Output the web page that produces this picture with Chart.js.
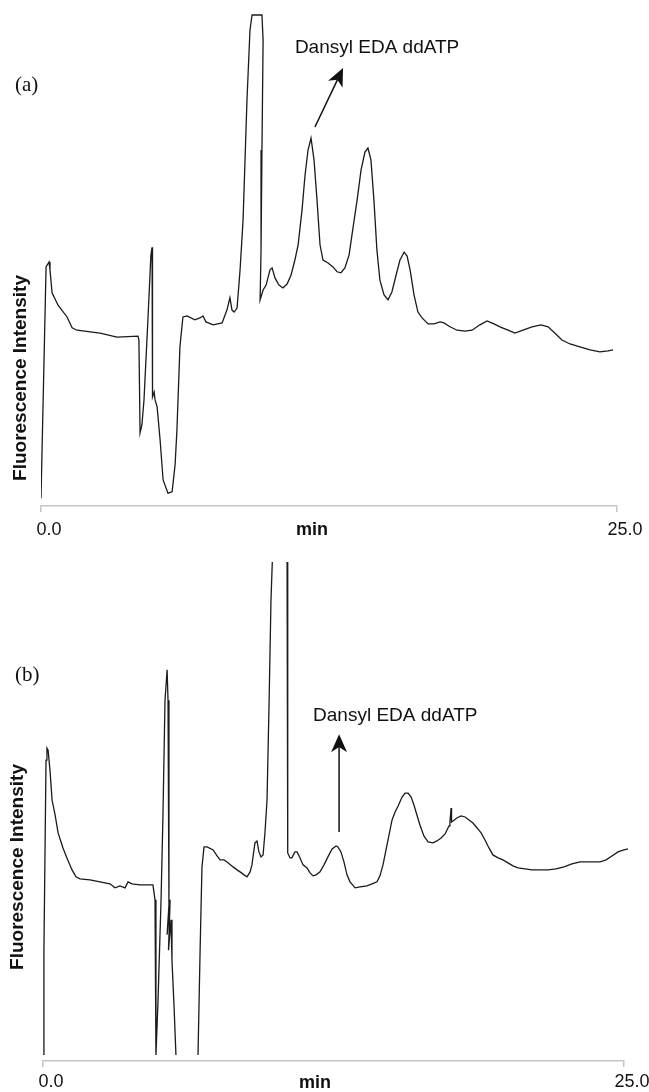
<!DOCTYPE html>
<html>
<head>
<meta charset="utf-8">
<script src="https://cdn.jsdelivr.net/npm/chart.js@4/dist/chart.umd.min.js"></script>
<style>
  html, body { margin: 0; padding: 0; background: #fff; }
  .panel { position: absolute; left: 0; width: 649px; }
  #wrapA { top: 0; height: 546px; }
  #wrapB { top: 546px; height: 546px; }
</style>
</head>
<body>
<div class="panel" id="wrapA"><canvas id="chartA" width="649" height="546"></canvas></div>
<div class="panel" id="wrapB"><canvas id="chartB" width="649" height="546"></canvas></div>
<script>
// texts
const yTitle = 'Fluorescence Intensity';
const xTitle = 'min';
const peakLabel = 'Dansyl EDA ddATP';

// x axis range (min)
const xTicks = [0, 25];

// panel (a) trace: retention time (min) and signal (% of full scale)
const timeA = [
  0, 0.22, 0.35, 0.39, 0.48, 0.74, 1.13, 1.35, 1.56, 2.56,
  3.30, 4.21, 4.25, 4.30, 4.38, 4.47, 4.64, 4.77, 4.82, 4.86,
  4.82, 4.91, 4.95, 5.04, 5.17, 5.30, 5.51, 5.69, 5.82, 5.90,
  6.03, 6.16, 6.34, 6.68, 6.90, 7.03, 7.16, 7.47, 7.86, 8.07,
  8.20, 8.29, 8.38, 8.51, 8.64, 8.77, 8.94, 9.07, 9.16, 9.59,
  9.64, 9.59, 9.55, 9.51, 9.64, 9.77, 9.94, 10.03, 10.16, 10.33,
  10.50, 10.68, 10.85, 11.02, 11.16, 11.33, 11.46, 11.59, 11.72, 11.85,
  11.98, 12.11, 12.24, 12.46, 12.67, 12.85, 13.02, 13.19, 13.37, 13.54,
  13.72, 13.89, 14.06, 14.19, 14.32, 14.45, 14.58, 14.71, 14.89, 15.06,
  15.23, 15.41, 15.58, 15.76, 15.89, 16.02, 16.19, 16.36, 16.54, 16.80,
  17.06, 17.32, 17.49, 17.75, 18.06, 18.40, 18.71, 19.05, 19.36, 19.66,
  19.92, 20.27, 20.57, 20.92, 21.31, 21.70, 22.01, 22.31, 22.61, 22.96,
  23.39, 23.83, 24.26, 24.61, 24.83
];
const signalA = [
  1.6, 48.7, 49.7, 48.1, 43.4, 40.9, 38.5, 36.3, 35.8, 35.2,
  34.4, 34.6, 33.8, 14.9, 16.5, 21.6, 37.9, 51.1, 52.7, 44.0,
  22.2, 23.2, 21.6, 20.2, 13.4, 5.3, 2.6, 2.9, 8.4, 15.5,
  32.4, 38.5, 38.7, 37.9, 38.3, 38.7, 37.5, 36.9, 37.3, 39.9,
  42.4, 39.9, 39.5, 40.3, 48.1, 58.2, 82.7, 96.9, 100, 100,
  94.9, 72.5, 52.1, 42.0, 44.0, 45.0, 48.1, 48.5, 46.4, 45.0,
  44.4, 45.2, 47.0, 50.1, 53.2, 60.3, 67.4, 72.5, 74.9, 70.5,
  62.3, 53.2, 50.1, 49.5, 48.7, 47.7, 47.5, 48.5, 51.1, 56.6,
  62.3, 68.4, 72.1, 72.9, 70.5, 62.3, 52.1, 46.0, 43.0, 42.0,
  43.6, 47.0, 50.1, 51.7, 50.9, 48.1, 43.0, 39.5, 38.3, 37.1,
  37.1, 37.5, 37.3, 36.5, 35.8, 35.6, 35.8, 36.9, 37.7, 37.1,
  36.5, 35.8, 35.2, 35.8, 36.5, 36.9, 36.5, 35.2, 33.8, 33.0,
  32.4, 31.8, 31.4, 31.6, 31.8
];

// panel (b) trace
const timeB = [
  0, 0.04, 0.13, 0.17, 0.22, 0.30, 0.39, 0.52, 0.65, 0.86,
  1.03, 1.25, 1.42, 1.59, 2.02, 2.45, 2.88, 3.10, 3.31, 3.53,
  3.66, 3.83, 4.17, 4.73, 4.82, 4.86, 4.95, 5.08, 5.16, 5.25,
  5.34, 5.38, 5.42, 5.34, 5.47, 5.40, 5.51, 5.55, 5.64, 5.72,
  5.81, 6.58, 6.67, 6.76, 6.84, 6.93, 7.06, 7.32, 7.49, 7.62,
  7.79, 7.92, 8.18, 8.35, 8.48, 8.65, 8.78, 8.91, 8.99, 9.12,
  9.21, 9.29, 9.38, 9.47, 9.55, 9.64, 9.73, 9.81, 9.90, 10.03,
  10.37, 10.50, 10.52, 10.54, 10.63, 10.71, 10.84, 10.93, 11.06, 11.19,
  11.36, 11.49, 11.62, 11.75, 11.92, 12.09, 12.26, 12.44, 12.61, 12.69,
  12.82, 12.95, 13.08, 13.21, 13.43, 13.64, 13.94, 14.16, 14.37, 14.50,
  14.63, 14.76, 14.89, 15.02, 15.15, 15.28, 15.45, 15.58, 15.71, 15.84,
  15.96, 16.09, 16.22, 16.39, 16.57, 16.78, 16.95, 17.13, 17.30, 17.47,
  17.51, 17.56, 17.58, 17.64, 17.81, 17.99, 18.16, 18.33, 18.50, 18.68,
  18.85, 19.02, 19.19, 19.36, 19.58, 19.79, 20.01, 20.22, 20.44, 20.74,
  21.04, 21.39, 21.73, 22.07, 22.42, 22.76, 23.11, 23.54, 23.97, 24.23,
  24.48, 24.74, 25.00, 25.17
];
const signalB = [
  1.2, 22.2, 60.3, 62.7, 62.3, 58.3, 52.3, 49.3, 45.7, 42.7,
  40.7, 38.3, 36.9, 36.5, 36.3, 35.9, 35.5, 34.7, 35.1, 34.7,
  35.9, 35.5, 35.3, 35.3, 32.3, 1.2, 12.2, 32.3, 48.9, 72.3,
  78.4, 72.3, 31.3, 25.3, 32.3, 22.2, 28.3, 20.2, 10.8, 1.2,
  -3.8, -3.8, 1.2, 22.2, 38.9, 42.9, 42.9, 42.3, 41.1, 40.3,
  40.3, 39.9, 38.9, 38.3, 37.9, 37.3, 36.9, 37.9, 39.3, 43.7,
  44.1, 41.9, 40.9, 41.3, 45.7, 52.3, 72.3, 92.4, 104.4, 122,
  122, 104.4, 72.3, 41.7, 40.7, 40.7, 41.9, 41.9, 40.7, 39.3,
  38.7, 37.7, 37.1, 37.3, 37.9, 39.3, 40.9, 42.5, 43.1, 42.9,
  41.9, 39.9, 37.3, 35.9, 34.7, 34.9, 35.1, 35.5, 35.9, 37.1,
  39.3, 42.3, 45.3, 48.3, 49.9, 51.1, 52.9, 53.7, 53.7, 52.9,
  51.3, 49.3, 47.3, 45.1, 43.9, 43.7, 44.1, 44.7, 45.5, 47.1,
  47.9, 50.7, 47.9, 48.1, 48.7, 49.1, 48.9, 48.3, 47.7, 46.7,
  45.7, 44.3, 42.7, 41.3, 40.7, 40.3, 39.7, 39.1, 38.7, 38.5,
  38.3, 38.3, 38.3, 38.5, 38.9, 39.5, 39.9, 39.9, 39.9, 40.3,
  41.1, 41.9, 42.3, 42.5
];

const toPoints = (xs, ys) => xs.map((x, i) => ({ x: x, y: ys[i] }));

// draws panel letter, axis titles and the peak arrow
const annotate = {
  id: 'annotate',
  afterDraw(chart, args, opts) {
    const ctx = chart.ctx;
    const sx = chart.scales.x;
    const sy = chart.scales.y;
    ctx.save();
    ctx.fillStyle = '#111';
    ctx.strokeStyle = '#111';

    ctx.font = '21px "Liberation Serif", "Times New Roman", serif';
    ctx.textAlign = 'left';
    ctx.textBaseline = 'alphabetic';
    ctx.fillText(opts.letter, opts.letterAt[0], opts.letterAt[1]);

    ctx.font = 'bold 18px "Liberation Sans", Arial, sans-serif';
    ctx.textAlign = 'center';
    ctx.fillText(xTitle, opts.xTitleAt[0], opts.xTitleAt[1]);

    ctx.save();
    ctx.font = 'bold 19px "Liberation Sans", Arial, sans-serif';
    ctx.translate(opts.yTitleAt[0], opts.yTitleAt[1]);
    ctx.rotate(-Math.PI / 2);
    ctx.textBaseline = 'middle';
    ctx.fillText(yTitle, 0, 0);
    ctx.restore();

    ctx.font = '19px "Liberation Sans", Arial, sans-serif';
    ctx.textAlign = 'left';
    ctx.fillText(peakLabel, sx.getPixelForValue(opts.labelAt[0]), sy.getPixelForValue(opts.labelAt[1]));

    // arrow
    const x0 = sx.getPixelForValue(opts.arrowFrom[0]);
    const y0 = sy.getPixelForValue(opts.arrowFrom[1]);
    const x1 = sx.getPixelForValue(opts.arrowTo[0]);
    const y1 = sy.getPixelForValue(opts.arrowTo[1]);
    const ang = Math.atan2(y1 - y0, x1 - x0);
    const len = 18, half = 8;
    ctx.lineWidth = 1.5;
    ctx.beginPath();
    ctx.moveTo(x0, y0);
    ctx.lineTo(x1 - Math.cos(ang) * len * 0.7, y1 - Math.sin(ang) * len * 0.7);
    ctx.stroke();
    ctx.translate(x1, y1);
    ctx.rotate(ang);
    ctx.beginPath();
    ctx.moveTo(0, 0);
    ctx.lineTo(-len, -half);
    ctx.lineTo(-len * 0.72, 0);
    ctx.lineTo(-len, half);
    ctx.closePath();
    ctx.fill();
    ctx.restore();
  }
};

function makeChart(id, points, scaleHeight, tickPad, padding, clip, notes) {
  return new Chart(document.getElementById(id), {
    type: 'line',
    data: {
      datasets: [{
        data: points,
        borderColor: '#1a1a1a',
        borderWidth: 1.3,
        pointRadius: 0,
        tension: 0,
        fill: false,
        clip: clip
      }]
    },
    options: {
      responsive: false,
      animation: false,
      devicePixelRatio: 1,
      layout: { padding: padding },
      plugins: {
        legend: { display: false },
        tooltip: { enabled: false },
        annotate: notes
      },
      scales: {
        x: {
          type: 'linear',
          min: xTicks[0],
          max: xTicks[1],
          afterBuildTicks: (scale) => { scale.ticks = xTicks.map(v => ({ value: v })); },
          afterFit: (scale) => { scale.height = scaleHeight; },
          ticks: {
            callback: (v) => Number(v).toFixed(1),
            color: '#111',
            font: { family: '"Liberation Sans", Arial, sans-serif', size: 18 },
            labelOffset: 8,
            padding: tickPad,
            maxRotation: 0,
            autoSkip: false
          },
          grid: { drawOnChartArea: false, drawTicks: true, tickLength: 6, color: '#c4c4c4', lineWidth: 1.5 },
          border: { display: true, color: '#c4c4c4', width: 1.5 }
        },
        y: {
          type: 'linear',
          min: 0,
          max: 100,
          display: false
        }
      }
    },
    plugins: [annotate]
  });
}

makeChart('chartA', toPoints(timeA, signalA), 40, 7,
  { left: 41, right: 32, top: 15, bottom: 0 },
  { left: 0, top: 2, right: 0, bottom: 0 },
  {
    letter: '(a)', letterAt: [15, 91],
    xTitleAt: [312, 535], yTitleAt: [21, 378],
    labelAt: [11.02, 92.3],
    arrowFrom: [11.89, 77.2], arrowTo: [13.11, 89.2]
  });

makeChart('chartB', toPoints(timeB, signalB), 31, 4,
  { left: 43, right: 25, top: 16, bottom: 0 },
  { left: 0, top: 0, right: 5, bottom: -6 },
  {
    letter: '(b)', letterAt: [15, 135],
    xTitleAt: [315, 542], yTitleAt: [18, 321],
    labelAt: [11.62, 68.1],
    arrowFrom: [12.74, 45.9], arrowTo: [12.74, 65.5]
  });
</script>
</body>
</html>
